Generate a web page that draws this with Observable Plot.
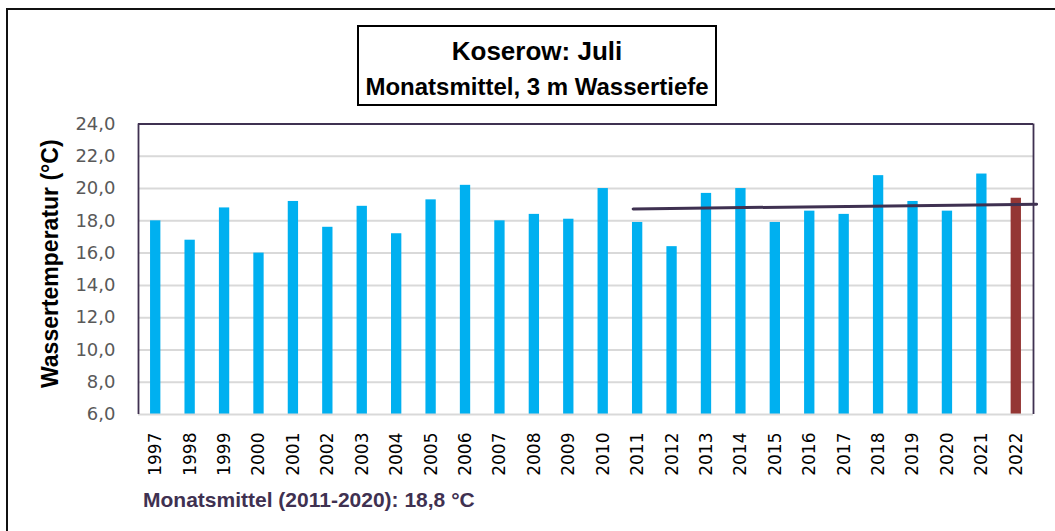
<!DOCTYPE html>
<html><head><meta charset="utf-8">
<script src="https://cdn.jsdelivr.net/npm/d3@7"></script>
<script src="https://cdn.jsdelivr.net/npm/@observablehq/plot@0.6"></script>
<style>
html,body{margin:0;padding:0;background:#fff;width:1055px;height:531px;overflow:hidden;}
#wrap{position:relative;width:1055px;height:531px;}
#outer{position:absolute;left:6px;top:8px;width:1100px;height:600px;border:2px solid #111;box-sizing:border-box;}
#chart{position:absolute;left:0;top:0;}
#titlebox{position:absolute;left:357px;top:25px;width:360px;height:81px;border:2px solid #000;box-sizing:border-box;background:#fff;font-family:"Liberation Sans",Arial,sans-serif;font-weight:bold;color:#000;text-align:center;}
#t1{position:absolute;left:0;right:0;top:9.5px;font-size:26px;line-height:29px;white-space:nowrap;}
#t2{position:absolute;left:0;right:0;top:46px;font-size:24px;line-height:27px;white-space:nowrap;}
#caption{position:absolute;left:143px;top:488px;font-family:"Liberation Sans",Arial,sans-serif;font-weight:bold;font-size:21px;line-height:23px;color:#3f3151;white-space:nowrap;}
</style>
</head><body>
<div id="wrap">
  <div id="outer"></div>
  <div id="chart"></div>
  <div id="titlebox"><div id="t1"></div><div id="t2"></div></div>
  <div id="caption"></div>
</div>
<script>
const titleText = "Koserow: Juli";
const subtitleText = "Monatsmittel, 3 m Wassertiefe";
const captionText = "Monatsmittel (2011-2020): 18,8 °C";
const yLabel = "Wassertemperatur (°C)";

const years = [1997,1998,1999,2000,2001,2002,2003,2004,2005,2006,2007,2008,2009,2010,2011,2012,2013,2014,2015,2016,2017,2018,2019,2020,2021,2022];
const temps = [18.0,16.8,18.8,16.0,19.2,17.6,18.9,17.2,19.3,20.2,18.0,18.4,18.1,20.0,17.9,16.4,19.7,20.0,17.9,18.6,18.4,20.8,19.2,18.6,20.9,19.4];
const yTicks = [6,8,10,12,14,16,18,20,22,24];
const trendYears = [2010.87, 2022.59];
const trendValues = [18.74, 19.03];

const currentYear = 2022;
const data = years.map((y, i) => ({year: y, temp: temps[i]}));
const trend = trendYears.map((y, i) => ({year: y, temp: trendValues[i]}));

document.getElementById("t1").textContent = titleText;
document.getElementById("t2").textContent = subtitleText;
document.getElementById("caption").textContent = captionText;

const half = 0.15;
const fmt = d => d.toFixed(1).replace(".", ",");

const chart = Plot.plot({
  width: 1055,
  height: 531,
  marginLeft: 138,
  marginRight: 22,
  marginTop: 123.5,
  marginBottom: 117,
  style: {fontFamily: "DejaVu Sans", background: "transparent"},
  x: {type: "linear", domain: [1996.5, 2022.5]},
  y: {domain: [6, 24]},
  marks: [
    Plot.gridY(yTicks.filter(t => t > 6 && t < 24), {stroke: "#d9d9d9", strokeOpacity: 1, strokeWidth: 2}),
    Plot.rectY(data, {
      x1: d => d.year - half, x2: d => d.year + half, y1: 6, y2: "temp",
      fill: d => d.year === currentYear ? "#943634" : "#00b0f0"
    }),
    Plot.ruleY([6], {stroke: "#d9d9d9", strokeWidth: 2}),
    Plot.ruleY([24], {stroke: "#3f3151", strokeWidth: 1.8}),
    Plot.ruleX([1996.5, 2022.5], {stroke: "#3f3151", strokeWidth: 1.8}),
    Plot.line(trend, {x: "year", y: "temp", stroke: "#3f3151", strokeWidth: 3}),
    Plot.axisY({ticks: yTicks, tickSize: 0, tickPadding: 23, tickFormat: fmt, fontSize: 18, color: "#595959", label: null}),
    Plot.axisX({ticks: years, tickSize: 0, tickPadding: 18, tickRotate: -90, tickFormat: d => String(d), fontSize: 17, color: "#000", label: null}),
    Plot.text([yLabel], {frameAnchor: "left", textAnchor: "middle", lineAnchor: "middle", text: d => d, rotate: -90, dx: -88, dy: -5.5, fontSize: 23, fontWeight: "bold", fontFamily: "Liberation Sans, Arial, sans-serif", fill: "#000"})
  ]
});
document.getElementById("chart").appendChild(chart);
</script>
</body></html>
